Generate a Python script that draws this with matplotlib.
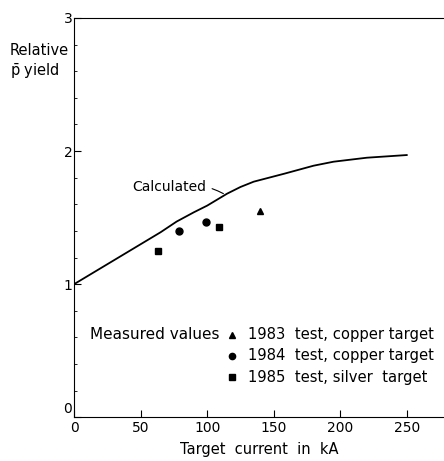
import matplotlib.pyplot as plt
from matplotlib.ticker import MultipleLocator

plt.rcParams['font.family'] = ['DejaVu Sans']

# calculated curve
calc_x = [0, 20, 45, 65, 77, 90, 100, 115, 125, 135, 158, 180, 195, 220, 250]
calc_y = [1.0, 1.12, 1.27, 1.39, 1.47, 1.54, 1.59, 1.68, 1.73, 1.77, 1.83,
          1.89, 1.92, 1.95, 1.97]

# measured values
tri_x = [140]
tri_y = [1.55]
circ_x = [79, 99]
circ_y = [1.40, 1.47]
sq_x = [63, 109]
sq_y = [1.25, 1.43]

legend_rows = ['1983  test, copper target',
               '1984  test, copper target',
               '1985  test, silver  target']

fig = plt.figure(figsize=(4.44, 4.61), dpi=100)
ax = fig.add_axes([0.167, 0.095, 0.833, 0.866])

ax.plot(calc_x, calc_y, color='black', lw=1.3)
ax.plot(tri_x, tri_y, '^', color='black', ms=4)
ax.plot(circ_x, circ_y, 'o', color='black', ms=5)
ax.plot(sq_x, sq_y, 's', color='black', ms=5)

ax.set_xlim(0, 278)
ax.set_ylim(0, 3)
ax.spines['right'].set_visible(False)
ax.xaxis.set_major_locator(MultipleLocator(50))
ax.set_yticks([0, 1, 2, 3])
ax.set_yticklabels(['', '1', '2', '3'])
ax.yaxis.set_minor_locator(MultipleLocator(0.2))
ax.tick_params(direction='in', length=5, width=0.8, labelsize=10)
ax.tick_params(which='minor', direction='in', length=2, width=0.6)
ax.tick_params(axis='x', pad=3)
ax.tick_params(axis='y', pad=1)
ax.text(-2, 0.01, '0', fontsize=10, ha='right', va='bottom', clip_on=False)

ax.set_xlabel('Target  current  in  kA', fontsize=10.5, labelpad=5)
fig.text(0.022, 0.865, 'Relative\n$\\bar{\\mathrm{p}}$ yield', fontsize=10.5,
         va='center', ha='left', linespacing=1.25)

# "Calculated" label with leader line
ax.annotate('Calculated', xy=(114, 1.67), xytext=(44, 1.73),
            fontsize=10, va='center',
            arrowprops=dict(arrowstyle='-', color='black', lw=0.8,
                            connectionstyle='arc3,rad=-0.2'))

# legend drawn as text
ax.text(12, 0.62, 'Measured values', fontsize=11, va='center')
row_y = [0.62, 0.46, 0.30]
markers = ['^', 'o', 's']
for yy, mk, lab in zip(row_y, markers, legend_rows):
    ax.plot([119], [yy], mk, color='black', ms=4 if mk == '^' else 4.5)
    ax.text(131, yy, lab, fontsize=10.6, va='center')

fig.savefig('out.png', dpi=100)
